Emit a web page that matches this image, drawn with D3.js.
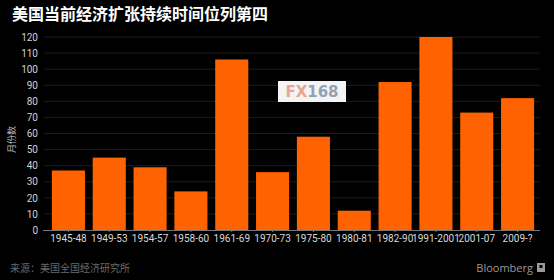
<!DOCTYPE html>
<html>
<head>
<meta charset="utf-8">
<script src="https://cdn.jsdelivr.net/npm/d3@7"></script>
<style>
  html, body { margin: 0; padding: 0; background: #000; }
  svg { display: block; }
</style>
</head>
<body>
<div id="chart"></div>
<script>
// 数据
const periods = ['1945-48', '1949-53', '1954-57', '1958-60', '1961-69', '1970-73',
    '1975-80', '1980-81', '1982-90', '1991-2001', '2001-07', '2009-?'];
const months = [37, 45, 39, 24, 106, 36, 58, 12, 92, 120, 73, 82];
const yTicks = [0, 10, 20, 30, 40, 50, 60, 70, 80, 90, 100, 110, 120];

const width = 554, height = 280;
const margin = { top: 37, right: 16, bottom: 50, left: 48 };

const svg = d3.select('#chart').append('svg')
    .attr('width', width)
    .attr('height', height);

svg.append('rect')
    .attr('width', width)
    .attr('height', height)
    .attr('fill', '#000');

const x = d3.scaleBand()
    .domain(periods)
    .range([margin.left, width - margin.right])
    .paddingInner(0.19)
    .paddingOuter(0.095);

const y = d3.scaleLinear()
    .domain([0, 120])
    .range([height - margin.bottom, margin.top]);

// 网格线
svg.append('g')
    .selectAll('line')
    .data(yTicks.slice(1))
    .enter().append('line')
    .attr('x1', margin.left - 4)
    .attr('x2', width - margin.right + 2)
    .attr('y1', d => y(d))
    .attr('y2', d => y(d))
    .attr('stroke', '#1c1c1c')
    .attr('stroke-width', 1);

// Y轴刻度
const yAxis = svg.append('g')
    .attr('transform', `translate(${margin.left - 6},0)`)
    .call(d3.axisLeft(y).tickValues(yTicks).tickSize(0).tickPadding(4));
yAxis.select('.domain').remove();
yAxis.selectAll('text')
    .attr('fill', '#d0d0d0')
    .style('font-family', 'Roboto, "Noto Sans", sans-serif')
    .style('font-size', '10px');

// 柱子
svg.append('g')
    .selectAll('rect')
    .data(months)
    .enter().append('rect')
    .attr('x', (d, i) => x(periods[i]))
    .attr('y', d => y(d))
    .attr('width', x.bandwidth())
    .attr('height', d => y(0) - y(d))
    .attr('fill', '#ff6200');

// X轴
const xAxis = svg.append('g')
    .attr('transform', `translate(0,${y(0)})`)
    .call(d3.axisBottom(x).tickSize(2).tickPadding(3).tickSizeOuter(0));
xAxis.select('.domain')
    .attr('d', `M${margin.left - 5},0.5H${width - margin.right + 2}`)
    .attr('stroke', '#777');
xAxis.selectAll('.tick line').attr('stroke', '#777');
xAxis.selectAll('text')
    .attr('fill', '#d8d8d8')
    .style('font-family', 'Roboto, "Noto Sans", sans-serif')
    .style('font-size', '10px');

// 标题
svg.append('text')
    .attr('x', 12)
    .attr('y', 20)
    .attr('fill', '#fff')
    .style('font-family', '"Noto Sans CJK SC", sans-serif')
    .style('font-size', '16px')
    .style('font-weight', 'bold')
    .text('美国当前经济扩张持续时间位列第四');

// Y轴标题
svg.append('text')
    .attr('transform', `translate(15,${(y(0) + y(120)) / 2 + 6}) rotate(-90)`)
    .attr('text-anchor', 'middle')
    .attr('fill', '#bbb')
    .style('font-family', '"Noto Sans CJK SC", sans-serif')
    .style('font-size', '9px')
    .text('月份数');

// 来源
svg.append('text')
    .attr('x', 10)
    .attr('y', 272)
    .attr('fill', '#6a6a6a')
    .style('font-family', '"Noto Sans CJK SC", sans-serif')
    .style('font-size', '10px')
    .text('来源：美国全国经济研究所');

// Bloomberg
svg.append('text')
    .attr('x', 533)
    .attr('y', 272)
    .attr('text-anchor', 'end')
    .attr('fill', '#9a9a9a')
    .style('font-family', '"Open Sans", sans-serif')
    .style('font-size', '11px')
    .text('Bloomberg');
svg.append('rect')
    .attr('x', 537)
    .attr('y', 263)
    .attr('width', 8)
    .attr('height', 9)
    .attr('fill', '#9a9a9a');
svg.append('rect')
    .attr('x', 539.5)
    .attr('y', 265)
    .attr('width', 3)
    .attr('height', 3)
    .attr('fill', '#000');

// 水印
const wm = svg.append('g').attr('transform', 'translate(278,81)');
wm.append('rect')
    .attr('width', 68)
    .attr('height', 21)
    .attr('fill', '#f4f4f4');
const wmText = wm.append('text')
    .attr('x', 34)
    .attr('y', 16)
    .attr('text-anchor', 'middle')
    .style('font-family', '"DejaVu Sans", sans-serif')
    .style('font-size', '15px')
    .style('font-weight', 'bold');
wmText.append('tspan').attr('fill', '#e9a593').text('FX');
wmText.append('tspan').attr('fill', '#8ea3b6').text('168');
</script>
</body>
</html>
